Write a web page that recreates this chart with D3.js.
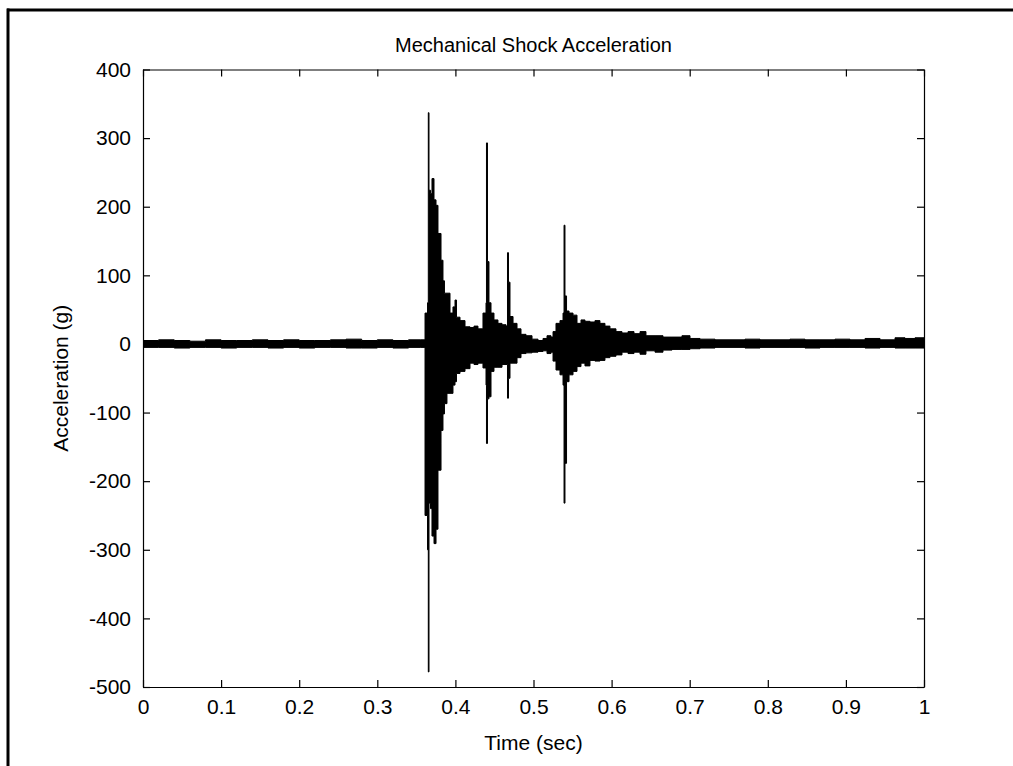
<!DOCTYPE html>
<html>
<head>
<meta charset="utf-8">
<script src="https://cdn.jsdelivr.net/npm/d3@7"></script>
<style>
  html, body { margin: 0; padding: 0; background: #fff; }
  svg { display: block; }
  text { font-family: "Liberation Sans", Arial, sans-serif; fill: #000; }
</style>
</head>
<body>
<svg id="chart" width="1013" height="766"></svg>
<script>
// ---------- data ----------
const chartTitle = "Mechanical Shock Acceleration";
const xLabel = "Time (sec)";
const yLabel = "Acceleration (g)";

const xTicks = [0, 0.1, 0.2, 0.3, 0.4, 0.5, 0.6, 0.7, 0.8, 0.9, 1];
const xTickLabels = ["0", "0.1", "0.2", "0.3", "0.4", "0.5", "0.6", "0.7", "0.8", "0.9", "1"];
const yTicks = [-500, -400, -300, -200, -100, 0, 100, 200, 300, 400];
const yTickLabels = ["-500", "-400", "-300", "-200", "-100", "0", "100", "200", "300", "400"];

// envelope of the sampled acceleration signal (time in s, max / min in g per time bin)
const envTime = [
  0.000, 0.020, 0.040, 0.060, 0.080, 0.100, 0.120, 0.140, 0.160, 0.180,
  0.200, 0.220, 0.240, 0.260, 0.280, 0.300, 0.320, 0.340, 0.355,
  0.3611, 0.3643, 0.3653, 0.3662, 0.3681, 0.3700, 0.3726, 0.3752, 0.3777, 0.3816,
  0.3841, 0.3860, 0.3892, 0.3931, 0.3969, 0.3995, 0.4014, 0.4059, 0.4123, 0.4187,
  0.4238, 0.4289, 0.4353, 0.4392, 0.4398, 0.4411, 0.4430, 0.4456, 0.4494, 0.4545,
  0.4597, 0.4648, 0.4667, 0.4680, 0.4699, 0.4738, 0.4789, 0.4840, 0.4904, 0.4981,
  0.5058, 0.5122, 0.5173, 0.5224, 0.5250, 0.5288, 0.5339, 0.5378, 0.5391, 0.5403,
  0.5423, 0.5455, 0.5506, 0.5557, 0.5608, 0.5659, 0.5723, 0.5787, 0.5851, 0.5915,
  0.5979, 0.6056, 0.6133, 0.6210, 0.6287, 0.6364, 0.6440, 0.6556, 0.6658, 0.6773,
  0.6901, 0.7004, 0.7132, 0.7324, 0.7516, 0.7708, 0.7900, 0.8092, 0.8284, 0.8476,
  0.8668, 0.8860, 0.9052, 0.9245, 0.9437, 0.9629, 0.9757, 0.9885, 1.000
];
const envMax = [
  5, 6, 5, 4, 6, 5, 5, 6, 5, 6,
  5, 5, 6, 7, 5, 6, 5, 6, 6,
  45, 60, 337, 224, 219, 241, 210, 202, 161, 122,
  92, 74, 74, 45, 54, 64, 39, 34, 25, 24,
  26, 22, 45, 60, 293, 120, 60, 45, 35, 30,
  28, 26, 133, 90, 40, 30, 22, 14, 12, 7,
  5, 8, 12, 10, 18, 30, 34, 45, 173, 70,
  48, 45, 42, 30, 35, 33, 32, 34, 30, 26,
  22, 18, 16, 18, 15, 18, 12, 12, 10, 10,
  12, 8, 7, 6, 6, 7, 6, 6, 7, 6,
  6, 7, 6, 8, 6, 9, 8, 9, 8
];
const envMin = [
  -5, -5, -6, -5, -5, -6, -5, -5, -6, -5,
  -6, -5, -5, -6, -6, -5, -6, -5, -5,
  -250, -300, -478, -232, -240, -280, -291, -270, -184, -126,
  -102, -87, -72, -72, -60, -55, -43, -40, -36, -28,
  -30, -28, -35, -60, -145, -80, -77, -40, -34, -34,
  -30, -30, -79, -50, -28, -28, -20, -14, -13, -12,
  -11, -10, -14, -12, -25, -38, -45, -60, -232, -174,
  -55, -45, -40, -33, -28, -32, -24, -25, -24, -20,
  -18, -16, -12, -14, -12, -15, -10, -12, -9, -8,
  -8, -7, -6, -5, -5, -6, -5, -5, -5, -6,
  -5, -5, -5, -6, -5, -6, -6, -6, -5
];

// ---------- layout ----------
const svg = d3.select("#chart");
const plotL = 143, plotR = 924, plotT = 69.5, plotB = 687;

const x = d3.scaleLinear().domain([0, 1]).range([plotL, plotR]);
const y = d3.scaleLinear().domain([-500, 400]).range([plotB, plotT]);

// outer frame (top and left borders of the figure)
svg.append("line").attr("x1", 7).attr("x2", 1013).attr("y1", 10).attr("y2", 10)
  .attr("stroke", "#000").attr("stroke-width", 3);
svg.append("line").attr("x1", 8).attr("x2", 8).attr("y1", 8.5).attr("y2", 766)
  .attr("stroke", "#000").attr("stroke-width", 3);

// clip
svg.append("clipPath").attr("id", "clip").append("rect")
  .attr("x", plotL).attr("y", plotT).attr("width", plotR - plotL).attr("height", plotB - plotT);

// waveform envelope
const data = envTime.map((t, i) => ({ t, hi: envMax[i], lo: envMin[i] }));
const area = d3.area()
  .x(d => x(d.t))
  .y0(d => y(d.lo))
  .y1(d => y(d.hi))
  .curve(d3.curveStepAfter);

svg.append("path")
  .datum(data)
  .attr("clip-path", "url(#clip)")
  .attr("d", area)
  .attr("fill", "#000")
  .attr("stroke", "#000")
  .attr("stroke-width", 1)
  .attr("stroke-linejoin", "miter");

// axes
const fontSize = "21px";
const xFmt = d => xTickLabels[xTicks.indexOf(d)];
const yFmt = d => yTickLabels[yTicks.indexOf(d)];

const gx = svg.append("g").attr("transform", `translate(0,${plotB})`)
  .call(d3.axisBottom(x).tickValues(xTicks).tickFormat(xFmt).tickSize(-7).tickSizeOuter(0).tickPadding(12));
const gxTop = svg.append("g").attr("transform", `translate(0,${plotT})`)
  .call(d3.axisTop(x).tickValues(xTicks).tickFormat("").tickSize(-7).tickSizeOuter(0));
const gy = svg.append("g").attr("transform", `translate(${plotL},0)`)
  .call(d3.axisLeft(y).tickValues(yTicks).tickFormat(yFmt).tickSize(-7).tickSizeOuter(0).tickPadding(12));
const gyRight = svg.append("g").attr("transform", `translate(${plotR},0)`)
  .call(d3.axisRight(y).tickValues(yTicks).tickFormat("").tickSize(-7).tickSizeOuter(0));

[gx, gxTop, gy, gyRight].forEach(g => {
  g.selectAll("path.domain").attr("stroke", "#000").attr("stroke-width", 1.2);
  g.selectAll(".tick line").attr("stroke", "#000").attr("stroke-width", 1.2);
  g.selectAll(".tick text").style("font-size", fontSize)
    .style("font-family", '"Liberation Sans", Arial, sans-serif').attr("fill", "#000");
});

// title
svg.append("text")
  .attr("x", (plotL + plotR) / 2).attr("y", 52)
  .attr("text-anchor", "middle")
  .style("font-size", "20px")
  .text(chartTitle);

// x label
svg.append("text")
  .attr("x", (plotL + plotR) / 2).attr("y", 750)
  .attr("text-anchor", "middle")
  .style("font-size", "21px")
  .text(xLabel);

// y label
svg.append("text")
  .attr("transform", `translate(68,${(plotT + plotB) / 2}) rotate(-90)`)
  .attr("text-anchor", "middle")
  .style("font-size", "21px")
  .text(yLabel);
</script>
</body>
</html>
